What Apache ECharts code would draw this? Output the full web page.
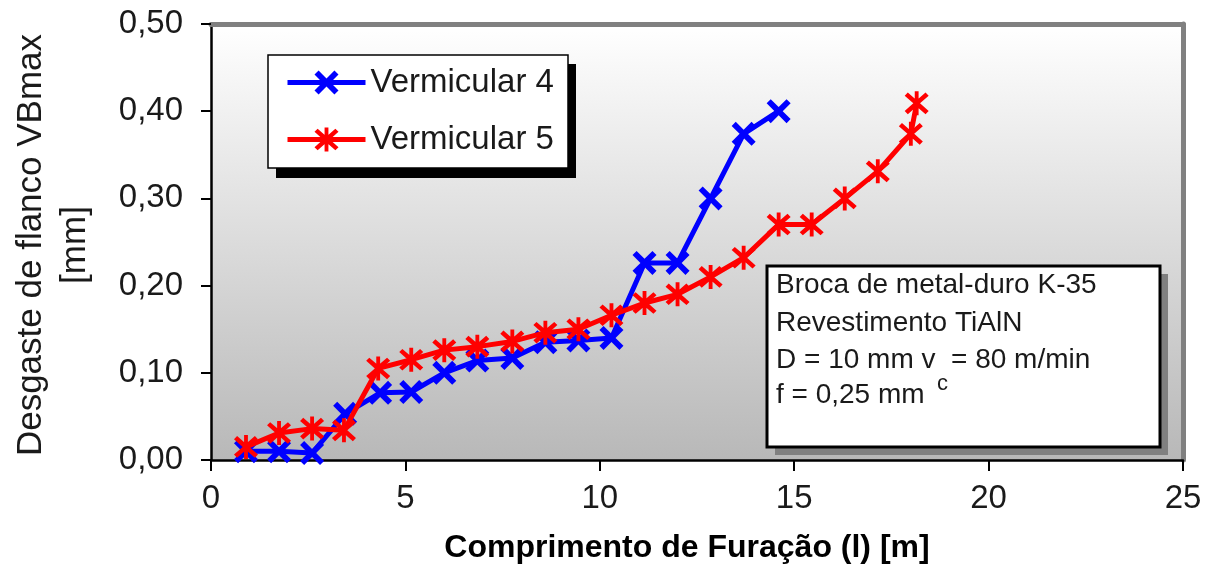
<!DOCTYPE html>
<html>
<head>
<meta charset="utf-8">
<script src="https://cdn.jsdelivr.net/npm/echarts@6/dist/echarts.min.js"></script>
<style>
html,body{margin:0;padding:0;background:#fff;}
#chart{width:1210px;height:565px;}
</style>
</head>
<body>
<div id="chart"></div>
<script>
// ---- data ----
const xTicks = [0, 5, 10, 15, 20, 25];
const yTicks = [0.0, 0.1, 0.2, 0.3, 0.4, 0.5];
const seriesNames = ['Vermicular 4', 'Vermicular 5'];
const v4X = [0.9, 1.75, 2.6, 3.45, 4.35, 5.15, 6.0, 6.85, 7.75, 8.6, 9.45, 10.3, 11.15, 12.0, 12.85, 13.7, 14.6];
const v4Y = [0.010, 0.010, 0.008, 0.053, 0.077, 0.078, 0.100, 0.114, 0.117, 0.135, 0.137, 0.140, 0.226, 0.226, 0.300, 0.374, 0.400];
const v5X = [0.9, 1.75, 2.6, 3.42, 4.3, 5.15, 6.0, 6.85, 7.75, 8.6, 9.45, 10.3, 11.15, 12.0, 12.85, 13.7, 14.6, 15.45, 16.3, 17.15, 18.0, 18.15];
const v5Y = [0.015, 0.031, 0.036, 0.034, 0.105, 0.115, 0.126, 0.130, 0.136, 0.146, 0.150, 0.166, 0.180, 0.190, 0.210, 0.232, 0.270, 0.270, 0.300, 0.331, 0.374, 0.409];
const xTitle = 'Comprimento de Furação (l) [m]';
const yTitle = 'Desgaste de flanco VBmax\n[mm]';
const noteLines = ['Broca de metal-duro K-35', 'Revestimento TiAlN', 'D = 10 mm v  = 80 m/min', 'f = 0,25 mm'];
const noteSub = 'c';

const FONT = '"Liberation Sans", Arial, sans-serif';
const xSym = 'path://M0,17 L17,0 L50,33 L83,0 L100,17 L67,50 L100,83 L83,100 L50,67 L17,100 L0,83 L33,50 Z';
const starSym = 'path://M0,18 L13,5 L50,37 L87,5 L100,18 L64,50 L100,82 L87,95 L50,63 L13,95 L0,82 L36,50 Z M42,0 L58,0 L58,100 L42,100 Z';

const pair = (xs, ys) => xs.map((x, i) => [x, ys[i]]);

const chart = echarts.init(document.getElementById('chart'), null, {renderer: 'canvas'});
const noteText = (t, y, size) => ({type: 'text', z: 12, x: 776, y: y,
  style: {text: t, font: size + 'px ' + FONT, fill: '#1a1a1a', textVerticalAlign: 'middle', verticalAlign: 'middle'}});
chart.setOption({
  animation: false,
  backgroundColor: '#ffffff',
  grid: {
    left: 211, right: 27, top: 24, bottom: 105, show: true, borderWidth: 0,
    containLabel: false, outerBoundsMode: 'none',
    backgroundColor: new echarts.graphic.LinearGradient(0, 0, 0, 1, [
      {offset: 0, color: '#ffffff'}, {offset: 1, color: '#b8b8b8'}
    ])
  },
  xAxis: [{
    type: 'value', min: 0, max: 25, interval: 5,
    axisLine: {show: true, onZero: false, lineStyle: {color: '#000', width: 2.5}},
    axisTick: {show: true, inside: false, length: 11, lineStyle: {color: '#000', width: 2}},
    axisLabel: {margin: 22, fontFamily: FONT, fontSize: 33, color: '#1a1a1a',
      formatter: v => xTicks.includes(v) ? String(v) : ''},
    splitLine: {show: false},
    name: xTitle, nameLocation: 'middle', nameGap: 72,
    nameTextStyle: {fontFamily: FONT, fontSize: 32, fontWeight: 'bold', color: '#000', padding: [0, 20, 0, 0]}
  }, {
    type: 'value', min: 0, max: 25, position: 'top',
    axisLine: {show: true, onZero: false, lineStyle: {color: '#808080', width: 5}},
    axisTick: {show: false}, axisLabel: {show: false}, splitLine: {show: false}
  }],
  yAxis: [{
    type: 'value', min: 0, max: 0.5, interval: 0.1,
    axisLine: {show: true, onZero: false, lineStyle: {color: '#000', width: 2.5}},
    axisTick: {show: true, inside: false, length: 10, lineStyle: {color: '#000', width: 2}},
    axisLabel: {margin: 28, fontFamily: FONT, fontSize: 33, color: '#1a1a1a',
      formatter: v => v.toFixed(2).replace('.', ',')},
    splitLine: {show: false}
  }, {
    type: 'value', min: 0, max: 0.5, position: 'right',
    axisLine: {show: true, onZero: false, lineStyle: {color: '#808080', width: 5}},
    axisTick: {show: false}, axisLabel: {show: false}, splitLine: {show: false}
  }],
  legend: {
    orient: 'vertical', left: 285, top: 66, padding: 0,
    itemWidth: 78, itemHeight: 30, itemGap: 24,
    lineStyle: {width: 5},
    textStyle: {fontFamily: FONT, fontSize: 33, color: '#1a1a1a', lineHeight: 33},
    data: seriesNames, z: 20
  },
  series: [{
    name: seriesNames[0], type: 'line', data: pair(v4X, v4Y),
    symbol: xSym, symbolSize: 24, z: 5,
    lineStyle: {color: '#0000ff', width: 5},
    itemStyle: {color: '#0000ff'}
  }, {
    name: seriesNames[1], type: 'line', data: pair(v5X, v5Y),
    symbol: starSym, symbolSize: 24, z: 6,
    lineStyle: {color: '#ff0000', width: 5},
    itemStyle: {color: '#ff0000'}
  }],
  graphic: [
    // legend box with black shadow
    {type: 'rect', z: 10, shape: {x: 276, y: 64, width: 300, height: 114}, style: {fill: '#000'}},
    {type: 'rect', z: 11, shape: {x: 268, y: 55, width: 300, height: 113}, style: {fill: '#fff', stroke: '#000', lineWidth: 1.5}},
    // note box with grey shadow
    {type: 'rect', z: 10, shape: {x: 775, y: 274, width: 393, height: 181}, style: {fill: '#808080'}},
    {type: 'rect', z: 11, shape: {x: 767, y: 266, width: 393, height: 181}, style: {fill: '#fff', stroke: '#000', lineWidth: 3}},
    noteText(noteLines[0], 285, 28),
    noteText(noteLines[1], 323, 28),
    noteText(noteLines[2], 360, 28),
    noteText(noteLines[3], 395, 28),
    {type: 'text', z: 12, x: 937, y: 384,
      style: {text: noteSub, font: '22px ' + FONT, fill: '#1a1a1a', textVerticalAlign: 'middle', verticalAlign: 'middle'}},
    // y axis title (rotated)
    {type: 'text', z: 12, x: 53, y: 245, rotation: Math.PI / 2,
      style: {text: yTitle, font: '35px ' + FONT, lineHeight: 44, fill: '#1a1a1a', align: 'center', verticalAlign: 'middle', textAlign: 'center', textVerticalAlign: 'middle'}}
  ]
});
</script>
</body>
</html>
